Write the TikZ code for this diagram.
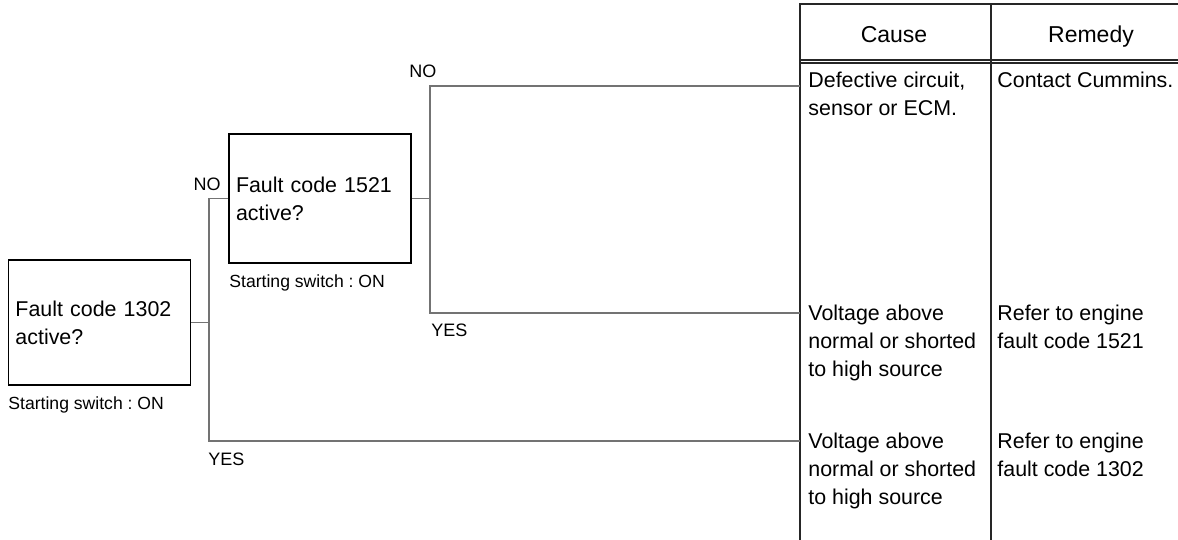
\documentclass[tikz,border=0pt]{standalone}
\usepackage{fontspec}
\setmainfont{Liberation Sans}
\usetikzlibrary{positioning}
\frenchspacing

\begin{document}
\begin{tikzpicture}[
    x=0.5pt, y=-0.5pt,
    every node/.style={font=\fontsize{10.7}{14}\selectfont},
    box/.style={rectangle, draw, line width=0.7pt, inner xsep=3.5pt, inner ysep=0pt, text width=84pt, align=left},
    note/.style={font=\fontsize{8.8}{11}\selectfont, inner sep=0pt, anchor=base west},
    lbl/.style={font=\fontsize{9}{11}\selectfont, inner sep=0pt},
    cell/.style={inner sep=0pt, anchor=north west, align=left},
    head/.style={font=\fontsize{11.5}{14}\selectfont, inner sep=0pt, anchor=base},
    rule/.style={draw=black!85, line width=0.6pt},
    conn/.style={draw=black!55, line width=0.6pt}
]
\useasboundingbox (0,0) rectangle (1178,540);

% Decision boxes
\node[box, minimum height=62.5pt] (q1302) at (99.5,322.5) {Fault code 1302\\active?};
\node[box, minimum height=64.5pt] (q1521) at (320,198.5) {Fault code 1521\\active?};
\node[note] (sw1302) at (8,409) {Starting switch : ON};
\node[note] (sw1521) at (229,287) {Starting switch : ON};

% Cause / Remedy table
\draw[rule] (800,540) -- (800,4) -- (1178,4);
\draw[rule] (991,4) -- (991,540);
\draw[rule] (800,60) -- (1178,60);
\draw[rule] (800,63) -- (1178,63);
\node[head] (cause) at (894,43) {Cause};
\node[head] (remedy) at (1091,43) {Remedy};

\node[cell] (cause1) at (808,72) {Defective circuit,\\sensor or ECM.};
\node[cell] (remedy1) at (997,72) {Contact Cummins.};
\node[cell] (cause2) at (808,305) {Voltage above\\normal or shorted\\to high source};
\node[cell] (remedy2) at (997,305) {Refer to engine\\fault code 1521};
\node[cell] (cause3) at (808,433) {Voltage above\\normal or shorted\\to high source};
\node[cell] (remedy3) at (997,433) {Refer to engine\\fault code 1302};

% Junctions and table entries
\coordinate (j1302) at (209,322.5);
\coordinate (j1521) at (430,198.5);
\coordinate (t1) at (800,86);
\coordinate (t2) at (800,313);
\coordinate (t3) at (800,441);

% Connectors
\draw[conn] (q1302.east) -- (j1302);
\draw[conn] (q1521.west) -| (j1302) |- (t3);
\draw[conn] (q1521.east) -- (j1521);
\draw[conn] (t1) -| (j1521) |- (t2);

% Branch labels
\node[lbl, anchor=base east] (no1302) at (221,191) {NO};
\node[lbl, anchor=base west] (yes1302) at (208,465) {YES};
\node[lbl, anchor=base west] (no1521) at (409,78) {NO};
\node[lbl, anchor=base west] (yes1521) at (431,336) {YES};

\end{tikzpicture}
\end{document}
